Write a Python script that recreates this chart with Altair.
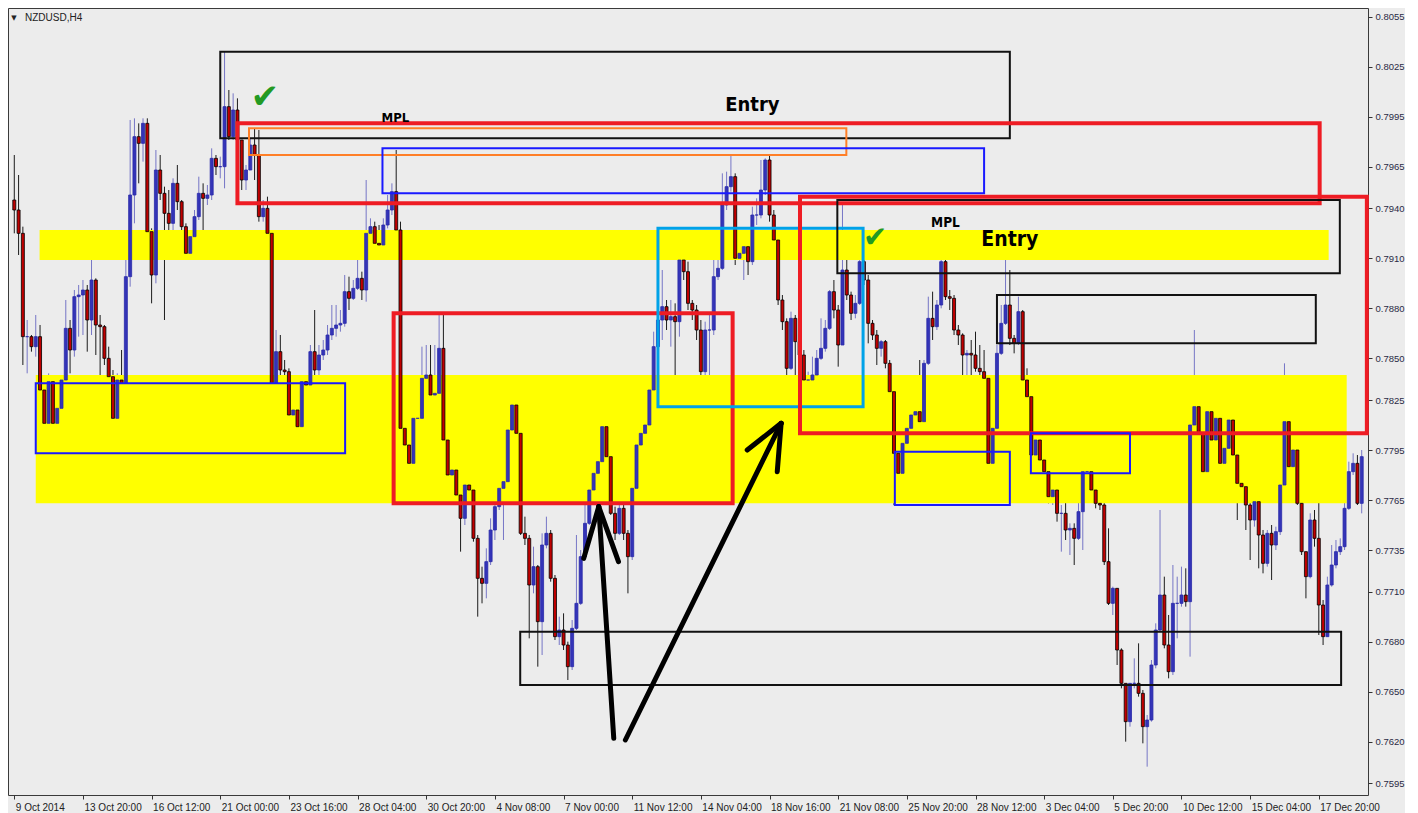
import json
import altair as alt
import pandas as pd

# ---------------- data ----------------
x_labels = ["9 Oct 2014", "13 Oct 20:00", "16 Oct 12:00", "21 Oct 00:00", "23 Oct 16:00",
            "28 Oct 04:00", "30 Oct 20:00", "4 Nov 08:00", "7 Nov 00:00", "11 Nov 12:00",
            "14 Nov 04:00", "18 Nov 16:00", "21 Nov 08:00", "25 Nov 20:00", "28 Nov 12:00",
            "3 Dec 04:00", "5 Dec 20:00", "10 Dec 12:00", "15 Dec 04:00", "17 Dec 20:00"]
tick_bars = [0, 16, 32, 48, 64, 80, 96, 112, 128, 144, 160, 176, 192, 208, 224, 240, 256, 272, 288, 304]
y_ticks = [0.8055, 0.8025, 0.7995, 0.7965, 0.7940, 0.7910, 0.7880, 0.7850, 0.7825,
           0.7795, 0.7765, 0.7735, 0.7710, 0.7680, 0.7650, 0.7620, 0.7595]

first_open_pips = 7945
close_pips = [
    7939, 7925, 7863, 7863, 7857, 7863, 7831, 7811, 7836, 7811,
    7820, 7837, 7868, 7855, 7887, 7888, 7891, 7873, 7897, 7870,
    7869, 7850, 7839, 7814, 7837, 7835, 7899, 7948, 7983, 7979,
    7991, 7926, 7900, 7963, 7949, 7937, 7931, 7955, 7944, 7929,
    7913, 7923, 7935, 7949, 7946, 7948, 7970, 7965, 7965, 8001,
    7983, 7999, 7981, 7957, 7963, 7978, 7972, 7935, 7940, 7925,
    7835, 7854, 7843, 7842, 7816, 7819, 7809, 7836, 7834, 7854,
    7843, 7852, 7855, 7864, 7868, 7870, 7871, 7890, 7886, 7892,
    7898, 7891, 7925, 7929, 7919, 7918, 7930, 7939, 7950, 7927,
    7808, 7798, 7787, 7814, 7814, 7838, 7840, 7828, 7829, 7856,
    7801, 7780, 7783, 7768, 7754, 7774, 7771, 7742, 7718, 7715,
    7728, 7747, 7761, 7772, 7776, 7807, 7822, 7805, 7745, 7742,
    7714, 7725, 7692, 7738, 7745, 7718, 7683, 7687, 7678, 7665,
    7688, 7703, 7731, 7751, 7771, 7781, 7788, 7809, 7791, 7757,
    7745, 7760, 7745, 7731, 7772, 7798, 7805, 7810, 7831, 7857,
    7873, 7881, 7873, 7875, 7872, 7909, 7902, 7883, 7879, 7867,
    7842, 7867, 7867, 7899, 7904, 7942, 7953, 7959, 7910, 7913,
    7917, 7908, 7936, 7936, 7951, 7969, 7936, 7921, 7885, 7872,
    7844, 7874, 7860, 7852, 7837, 7837, 7840, 7850, 7856, 7868,
    7890, 7879, 7858, 7903, 7888, 7877, 7883, 7908, 7897, 7871,
    7864, 7856, 7860, 7847, 7830, 7793, 7781, 7799, 7808, 7816,
    7818, 7812, 7847, 7874, 7869, 7882, 7908, 7887, 7886, 7867,
    7864, 7852, 7853, 7852, 7844, 7842, 7838, 7787, 7808, 7853,
    7871, 7882, 7862, 7859, 7878, 7837, 7827, 7792, 7801, 7789,
    7782, 7767, 7771, 7757, 7757, 7747, 7748, 7742, 7758, 7782,
    7782, 7771, 7763, 7762, 7728, 7703, 7712, 7675, 7655, 7632,
    7655, 7655, 7649, 7629, 7633, 7666, 7687, 7708, 7678, 7662,
    7703, 7703, 7708, 7704, 7810, 7821, 7805, 7782, 7818, 7801,
    7814, 7787, 7796, 7813, 7792, 7775, 7773, 7762, 7753, 7764,
    7744, 7727, 7745, 7738, 7746, 7774, 7812, 7785, 7795, 7763,
    7734, 7719, 7753, 7742, 7702, 7683, 7714, 7726, 7734, 7737,
    7760, 7782, 7787, 7763, 7791]
high_pips = [
    7972, 7960, 7929, 7873, 7864, 7876, 7870, 7836, 7841, 7838,
    7825, 7838, 7885, 7873, 7891, 7894, 7897, 7894, 7914, 7898,
    7876, 7870, 7857, 7843, 7841, 7855, 7916, 7993, 7994, 7991,
    7994, 7994, 7928, 7975, 7972, 7953, 7951, 7958, 7966, 7945,
    7931, 7927, 7939, 7959, 7955, 7954, 7976, 7972, 7971, 8034,
    8011, 8009, 8006, 7975, 7966, 7982, 7988, 7987, 7945, 7947,
    7926, 7867, 7864, 7849, 7844, 7825, 7822, 7838, 7840, 7858,
    7879, 7858, 7861, 7870, 7882, 7882, 7879, 7900, 7899, 7897,
    7909, 7902, 7957, 7934, 7932, 7930, 7934, 7948, 7955, 7975,
    7932, 7823, 7807, 7823, 7819, 7857, 7858, 7858, 7858, 7876,
    7876, 7801, 7789, 7783, 7779, 7781, 7790, 7774, 7744, 7725,
    7736, 7754, 7765, 7777, 7781, 7811, 7839, 7830, 7807, 7755,
    7744, 7737, 7726, 7745, 7755, 7747, 7720, 7695, 7697, 7680,
    7693, 7744, 7735, 7765, 7781, 7785, 7792, 7820, 7810, 7792,
    7761, 7765, 7765, 7747, 7777, 7807, 7810, 7816, 7839, 7866,
    7879, 7903, 7885, 7885, 7883, 7913, 7926, 7908, 7885, 7882,
    7873, 7872, 7876, 7917, 7915, 7961, 7962, 7972, 7961, 7924,
    7925, 7924, 7941, 7946, 7969, 7970, 7972, 7939, 7924, 7888,
    7874, 7878, 7876, 7867, 7855, 7842, 7851, 7855, 7874, 7873,
    7891, 7897, 7882, 7942, 7910, 7890, 7888, 7909, 7909, 7900,
    7873, 7867, 7861, 7861, 7849, 7832, 7798, 7801, 7813, 7831,
    7823, 7849, 7849, 7887, 7890, 7885, 7919, 7924, 7891, 7888,
    7870, 7865, 7855, 7861, 7866, 7858, 7855, 7824, 7816, 7858,
    7882, 7909, 7903, 7864, 7887, 7879, 7844, 7828, 7807, 7801,
    7794, 7793, 7783, 7790, 7762, 7765, 7751, 7751, 7769, 7818,
    7786, 7784, 7781, 7766, 7770, 7748, 7713, 7699, 7676, 7655,
    7655, 7670, 7679, 7651, 7636, 7669, 7691, 7759, 7719, 7696,
    7726, 7719, 7725, 7724, 7830, 7867, 7833, 7833, 7822, 7810,
    7825, 7817, 7801, 7837, 7820, 7793, 7783, 7771, 7768, 7771,
    7765, 7747, 7747, 7750, 7749, 7780, 7847, 7819, 7806, 7795,
    7765, 7734, 7757, 7759, 7792, 7705, 7719, 7738, 7741, 7742,
    7765, 7788, 7793, 7792, 7795]
low_pips = [
    7925, 7912, 7846, 7841, 7854, 7851, 7797, 7797, 7801, 7797,
    7810, 7795, 7836, 7841, 7851, 7863, 7864, 7854, 7864, 7852,
    7840, 7846, 7817, 7813, 7804, 7809, 7816, 7893, 7931, 7955,
    7968, 7921, 7883, 7895, 7945, 7873, 7927, 7924, 7939, 7909,
    7910, 7912, 7912, 7933, 7926, 7942, 7945, 7960, 7958, 7952,
    7981, 7981, 7978, 7951, 7951, 7963, 7957, 7932, 7932, 7915,
    7829, 7830, 7837, 7834, 7813, 7805, 7793, 7807, 7828, 7831,
    7840, 7840, 7849, 7852, 7861, 7863, 7866, 7869, 7879, 7885,
    7891, 7885, 7884, 7921, 7915, 7912, 7915, 7928, 7936, 7915,
    7806, 7770, 7783, 7780, 7764, 7810, 7837, 7821, 7814, 7828,
    7790, 7772, 7777, 7763, 7734, 7750, 7768, 7740, 7695, 7703,
    7706, 7726, 7741, 7759, 7741, 7774, 7804, 7801, 7744, 7738,
    7682, 7709, 7665, 7672, 7736, 7716, 7681, 7678, 7675, 7657,
    7663, 7687, 7702, 7729, 7750, 7768, 7777, 7786, 7780, 7756,
    7741, 7744, 7741, 7709, 7729, 7771, 7795, 7803, 7807, 7830,
    7855, 7861, 7867, 7857, 7837, 7863, 7897, 7879, 7873, 7861,
    7837, 7837, 7823, 7864, 7897, 7903, 7939, 7950, 7906, 7909,
    7897, 7900, 7906, 7930, 7934, 7948, 7932, 7918, 7882, 7867,
    7834, 7843, 7839, 7848, 7822, 7831, 7805, 7837, 7849, 7854,
    7867, 7874, 7845, 7858, 7885, 7873, 7874, 7882, 7894, 7859,
    7861, 7846, 7851, 7844, 7828, 7762, 7777, 7775, 7795, 7807,
    7812, 7801, 7808, 7846, 7861, 7867, 7880, 7885, 7879, 7864,
    7858, 7823, 7837, 7840, 7842, 7838, 7831, 7774, 7786, 7807,
    7852, 7870, 7858, 7853, 7858, 7834, 7813, 7791, 7785, 7771,
    7765, 7763, 7762, 7752, 7734, 7741, 7732, 7726, 7741, 7735,
    7778, 7769, 7760, 7759, 7726, 7702, 7696, 7666, 7652, 7620,
    7629, 7652, 7647, 7619, 7605, 7632, 7664, 7686, 7676, 7658,
    7660, 7682, 7701, 7701, 7671, 7810, 7804, 7780, 7780, 7798,
    7799, 7767, 7783, 7792, 7789, 7753, 7767, 7747, 7729, 7749,
    7724, 7721, 7725, 7717, 7735, 7744, 7774, 7771, 7783, 7762,
    7732, 7706, 7718, 7737, 7684, 7678, 7684, 7713, 7724, 7732,
    7735, 7759, 7780, 7762, 7757]

# annotation boxes: (bar from, bar to, price top, price bottom, colour, line width)
box_from = [48.0, 52.0, 54.7, 85.8, 5.0, 88.4, 150.0, 183.1, 191.8, 229.0, 205.2, 236.9, 117.9]
box_to = [232.0, 304.2, 193.9, 226.0, 77.1, 167.4, 197.8, 315.2, 308.9, 303.3, 232.0, 260.0, 309.2]
box_top = [0.8034, 0.7991, 0.7988, 0.7976, 0.7835, 0.7877, 0.7928, 0.7947, 0.7945, 0.7888, 0.7794, 0.7805, 0.7686]
box_bot = [0.7982, 0.7943, 0.7972, 0.7949, 0.7793, 0.7763, 0.7821, 0.7805, 0.7901, 0.7859, 0.7762, 0.7781, 0.7654]
box_color = ["#111111", "#ee1c24", "#ff7f27", "#1a1aff", "#1a1aff", "#ee1c24", "#00a2e8",
             "#ee1c24", "#111111", "#111111", "#1a1aff", "#1a1aff", "#111111"]
box_width = [2, 4, 2, 2, 2, 4, 3, 4, 2, 2, 2, 2, 2]

# yellow zones
zone_from = [5.9, 5.0]
zone_to = [306.3, 310.5]
zone_top = [0.7927, 0.7840]
zone_bot = [0.7909, 0.7763]

# arrow strokes (bar, price) -> (bar, price)
arrow_x1 = [139.7, 136.2, 136.2, 142.4, 178.7, 178.7]
arrow_p1 = [0.7622, 0.7761, 0.7761, 0.7621, 0.7811, 0.7811]
arrow_x2 = [136.2, 132.7, 140.8, 178.7, 170.8, 177.8]
arrow_p2 = [0.7761, 0.7730, 0.7728, 0.7811, 0.7795, 0.7782]

# text notes
note_text = ["Entry", "Entry", "MPL", "MPL"]
note_x = [172.0, 232.0, 88.8, 217.0]
note_p = [0.8002, 0.7921, 0.7994, 0.7931]
note_size = [20, 21, 13, 13.5]

check_x = [58.4, 200.6]
check_p = [0.8006, 0.7922]
check_size = [34, 29]

# ---------------- build tables ----------------
opens = [first_open_pips] + close_pips[:-1]
rows = []
for i, (o, c, h, l) in enumerate(zip(opens, close_pips, high_pips, low_pips)):
    bull = c >= o
    rows.append(dict(
        i=i, open=o / 1e4, close=c / 1e4,
        high=max(h, o, c) / 1e4, low=min(l, o, c) / 1e4,
        body="#3434b8" if bull else "#c00000",
        edge="#2a2aa8" if bull else "#000000",
        wick="#7676c6" if bull else "#1c1c1c",
    ))
candles = pd.DataFrame(rows)

boxes = pd.DataFrame(dict(x1=box_from, x2=box_to, p1=box_top, p2=box_bot,
                          color=box_color, sw=box_width))
zones = pd.DataFrame(dict(x1=zone_from, x2=zone_to, p1=zone_top, p2=zone_bot))
arrows = pd.DataFrame(dict(x1=arrow_x1, x2=arrow_x2, p1=arrow_p1, p2=arrow_p2))
notes = pd.DataFrame(dict(t=note_text, x=note_x, p=note_p, s=note_size))
checks = pd.DataFrame(dict(t=["\u2714"] * len(check_x), x=check_x, p=check_p, s=check_size))
header = pd.DataFrame(dict(t=["NZDUSD,H4"], tri=["\u25BC"]))

# ---------------- scales / axes ----------------
xs = alt.Scale(domain=[-0.3, 314.3], nice=False, zero=False)
ys = alt.Scale(domain=[0.7588, 0.80602], nice=False, zero=False)

label_arr = json.dumps(x_labels)
x_axis = alt.Axis(values=tick_bars, labelExpr=f"{label_arr}[round(datum.value / 16)]",
                  labelAlign="left", labelOffset=1, labelPadding=3, tickSize=4,
                  tickColor="#333333", grid=False, domain=False,
                  labelFlush=False, labelOverlap=False, labelFont="Liberation Sans",
                  labelFontSize=10, labelColor="#222222")
y_axis = alt.Axis(orient="right", values=y_ticks, format=".4f", tickSize=4,
                  tickColor="#333333", labelPadding=3, grid=False, domain=False,
                  labelOverlap=False, labelFont="Liberation Sans",
                  labelFontSize=9.5, labelColor="#2a2a44")


def X(field, **kw):
    return alt.X(field, scale=xs, title=None, **kw)


def Y(field, **kw):
    return alt.Y(field, scale=ys, title=None, **kw)


wicks = alt.Chart(candles).mark_rule(strokeWidth=1).encode(
    x=X("i:Q", axis=x_axis),
    y=Y("low:Q", axis=y_axis), y2="high:Q",
    color=alt.Color("wick:N", scale=None))

zone_layer = alt.Chart(zones).mark_rect(color="#ffff00").encode(
    x=X("x1:Q"), x2="x2:Q", y=Y("p1:Q"), y2="p2:Q")

bodies = alt.Chart(candles).mark_bar(width=3, strokeWidth=0.8).encode(
    x=X("i:Q"), y=Y("open:Q"), y2="close:Q",
    fill=alt.Fill("body:N", scale=None),
    stroke=alt.Stroke("edge:N", scale=None))

box_layer = alt.Chart(boxes).mark_rect(filled=False).encode(
    x=X("x1:Q"), x2="x2:Q", y=Y("p1:Q"), y2="p2:Q",
    stroke=alt.Stroke("color:N", scale=None),
    strokeWidth=alt.StrokeWidth("sw:Q", scale=None))

arrow_layer = alt.Chart(arrows).mark_rule(strokeWidth=5, strokeCap="round", color="#000000").encode(
    x=X("x1:Q"), x2="x2:Q", y=Y("p1:Q"), y2="p2:Q")

note_layer = alt.Chart(notes).mark_text(
    font="Liberation Sans Narrow, DejaVu Sans Condensed, Liberation Sans",
    fontWeight="bold", color="#000000", align="center", baseline="middle").encode(
    x=X("x:Q"), y=Y("p:Q"), text="t:N", size=alt.Size("s:Q", scale=None))

check_layer = alt.Chart(checks).mark_text(
    font="DejaVu Sans", color="#239a23", align="center", baseline="middle").encode(
    x=X("x:Q"), y=Y("p:Q"), text="t:N", size=alt.Size("s:Q", scale=None))

header_text = alt.Chart(header).mark_text(
    font="Liberation Sans", fontSize=10, color="#222222", align="left", baseline="middle").encode(
    x=alt.value(17), y=alt.value(10), text="t:N")
header_tri = alt.Chart(header).mark_text(
    font="DejaVu Sans", fontSize=7, color="#222222", align="center", baseline="middle").encode(
    x=alt.value(6), y=alt.value(10), text="tri:N")

chart = alt.layer(
    wicks, zone_layer, bodies, box_layer, arrow_layer, note_layer, check_layer,
    header_text, header_tri
).properties(
    width=1360, height=787, background="#ececec",
    padding={"left": 0, "top": 0, "right": 0, "bottom": 8}
).configure_view(
    stroke="#3a3a3a", strokeWidth=1, fill="#ececec"
)

chart.save("out.html", embed_options={"renderer": "svg", "actions": False})
